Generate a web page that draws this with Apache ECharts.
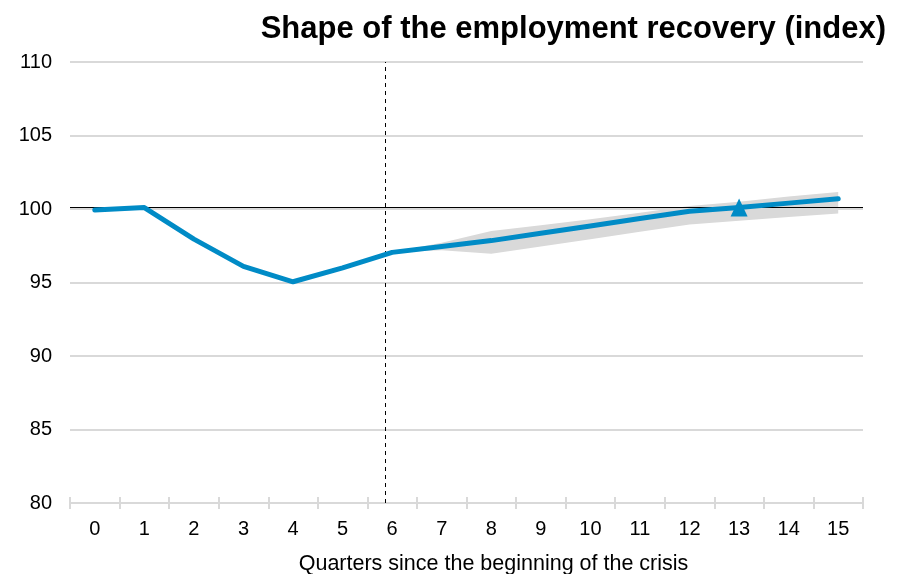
<!DOCTYPE html>
<html><head><meta charset="utf-8">
<script src="https://cdn.jsdelivr.net/npm/echarts@6/dist/echarts.min.js"></script>
<style>html,body{margin:0;padding:0;background:#fff}#c{width:902px;height:574px}</style>
</head><body><div id="c"></div>
<script>
const quarters = ['0','1','2','3','4','5','6','7','8','9','10','11','12','13','14','15'];
const employment = [99.93, 100.1, 97.95, 96.1, 95.05, 96.0, 97.05, 97.45, 97.85, 98.35, 98.85, 99.35, 99.85, 100.1, 100.4, 100.7];
const bandLower = [null, null, null, null, null, null, 97.05, 97.2, 96.95, 97.45, 97.95, 98.45, 98.95, 99.2, 99.45, 99.7];
const bandUpper = [null, null, null, null, null, null, 97.05, 97.7, 98.5, 98.9, 99.3, 99.75, 100.2, 100.5, 100.85, 101.15];
const markerValue = [null, null, null, null, null, null, null, null, null, null, null, null, null, 100.1, null, null];
const yTicks = [80, 85, 90, 95, 100, 105, 110];
const referenceLevel = 100.15;
const crisisMarker = 5.87;

const bandWidth = bandUpper.map((u, i) => (u == null || bandLower[i] == null) ? null : +(u - bandLower[i]).toFixed(3));
const font = 'Liberation Sans, Arial, sans-serif';
const chart = echarts.init(document.getElementById('c'), null, {renderer: 'canvas'});
chart.setOption({
  animation: false,
  backgroundColor: '#fff',
  title: {
    text: 'Shape of the employment recovery (index)',
    right: 11, top: 9,
    textStyle: {fontFamily: font, fontWeight: 'bold', fontSize: 31, color: '#000'}
  },
  grid: {left: 70, right: 39, top: 62, bottom: 71, containLabel: false, outerBoundsMode: 'none'},
  xAxis: [{
    type: 'category', data: quarters, boundaryGap: true,
    axisLine: {lineStyle: {color: '#d9d9d9', width: 2}},
    axisTick: {show: true, interval: 0, length: 6, lineStyle: {color: '#d9d9d9', width: 2}},
    axisLabel: {fontFamily: font, fontSize: 20, color: '#000', margin: 16},
    name: 'Quarters since the beginning of the crisis',
    nameLocation: 'middle', nameGap: 50,
    nameTextStyle: {fontFamily: font, fontSize: 21.5, color: '#000', padding: [0, 0, 0, 54]}
  }, {
    type: 'category', data: quarters, boundaryGap: true, position: 'bottom',
    axisLine: {show: false},
    axisTick: {show: true, inside: true, interval: 0, length: 6, lineStyle: {color: '#d9d9d9', width: 2}},
    axisLabel: {show: false}
  }, {
    type: 'value', min: -0.5, max: 15.5, show: false
  }],
  yAxis: {
    type: 'value', min: yTicks[0], max: yTicks[yTicks.length - 1], interval: 5,
    axisLine: {show: false}, axisTick: {show: false},
    axisLabel: {fontFamily: font, fontSize: 20, color: '#000', margin: 18},
    splitLine: {lineStyle: {color: '#d9d9d9', width: 2}}
  },
  series: [
    {type: 'line', xAxisIndex: 0, data: bandLower, stack: 'band', symbol: 'none', lineStyle: {opacity: 0}, silent: true},
    {type: 'line', xAxisIndex: 0, data: bandWidth, stack: 'band', symbol: 'none', lineStyle: {opacity: 0}, areaStyle: {color: '#d9d9d9', opacity: 1}, silent: true},
    {type: 'line', xAxisIndex: 0, data: employment.map(() => null), symbol: 'none',
      markLine: {symbol: 'none', silent: true, label: {show: false},
        lineStyle: {color: '#000', type: 'solid', width: 1.2},
        data: [{yAxis: referenceLevel}]}},
    {type: 'line', xAxisIndex: 0, data: employment, symbol: 'none',
      lineStyle: {color: '#008BC6', width: 5, cap: 'round', join: 'round'}, z: 5},
    {type: 'line', xAxisIndex: 0, data: markerValue, symbol: 'triangle', symbolSize: [17, 18],
      itemStyle: {color: '#008BC6'}, lineStyle: {opacity: 0}, z: 6},
    {type: 'line', xAxisIndex: 2, data: [], symbol: 'none',
      markLine: {symbol: 'none', silent: true, label: {show: false},
        lineStyle: {color: '#000', type: [4, 4], width: 1},
        data: [{xAxis: crisisMarker}]}}
  ]
});
</script></body></html>
